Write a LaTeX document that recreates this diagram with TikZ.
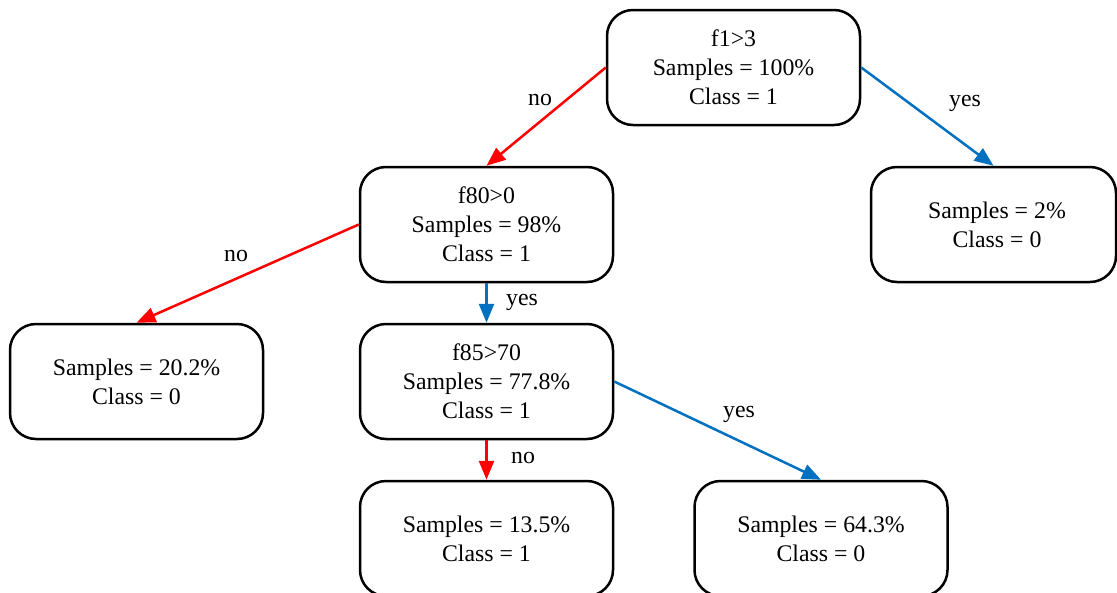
\documentclass[tikz,border=0pt]{standalone}
\usepackage{fontspec}
\setmainfont{Liberation Serif}
\usetikzlibrary{arrows.meta}
\definecolor{noRed}{HTML}{FF0000}
\definecolor{yesBlue}{HTML}{0070C0}
\tikzset{
  treebox/.style={draw=black, line width=2.5pt, rounded corners=26pt, align=center,
    minimum width=253pt, minimum height=115pt, inner sep=0pt,
    font=\fontsize{23.8}{29}\selectfont},
  lbl/.style={font=\fontsize{23.8}{29}\selectfont, inner sep=0pt},
  noedge/.style={draw=noRed, line width=2.5pt, -{Triangle[length=19pt,width=15pt]}},
  yesedge/.style={draw=yesBlue, line width=2.5pt, -{Triangle[length=19pt,width=15pt]}}
}
\begin{document}
\begin{tikzpicture}[x=1pt,y=-1pt]
\useasboundingbox[fill=white] (0,0) rectangle (1117,592);
\begin{scope}
\clip (0,0) rectangle (1117,592);
\node[treebox] (root) at (733.5,67.5) {f1>3\\Samples = 100\%\\Class = 1};
\node[treebox] (f80) at (486.5,224.5) {f80>0\\Samples = 98\%\\Class = 1};
\node[treebox, minimum width=245pt] (r) at (993.5,224.5) {\hspace*{7pt}Samples = 2\%\\\hspace*{7pt}Class = 0};
\node[treebox] (l) at (136.5,381.5) {Samples = 20.2\%\\Class = 0};
\node[treebox] (f85) at (486.5,381.5) {f85>70\\Samples = 77.8\%\\Class = 1};
\node[treebox] (bl) at (486.5,538.5) {Samples = 13.5\%\\Class = 1};
\node[treebox] (br) at (821,538.5) {Samples = 64.3\%\\Class = 0};

\draw[noedge] (root.west) -- (f80.north);
\draw[yesedge] (root.east) -- (r.north);
\draw[noedge] (f80.west) -- (l.north);
\draw[yesedge] (f80.south) -- (f85.north);
\draw[noedge] (f85.south) -- (bl.north);
\draw[yesedge] (f85.east) -- (br.north);

\node[lbl] (n1) at (540,100) {no};
\node[lbl] (y1) at (965,103) {yes};
\node[lbl] (n2) at (236,256) {no};
\node[lbl] (y2) at (522,302) {yes};
\node[lbl] (n3) at (523,458) {no};
\node[lbl] (y3) at (739,414) {yes};
\end{scope}
\end{tikzpicture}
\end{document}
